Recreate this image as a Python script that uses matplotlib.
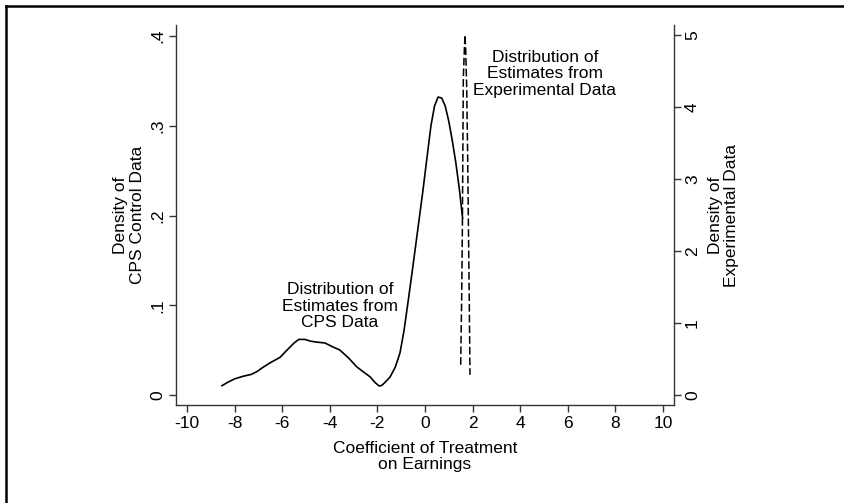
"""
Density of treatment coefficient estimates: CPS control data vs experimental data
"""
import matplotlib
matplotlib.use("Agg")
import matplotlib.pyplot as plt
from matplotlib.lines import Line2D

FIGURE_SIZE = (8.45, 5.03)

# 'CPS control data density (left axis)'
cps_x = [-8.53, -8.3, -8.0, -7.63, -7.3, -7.07, -6.8, -6.5, -6.09, -5.8, -5.5, -5.3, -5.04,
         -4.8, -4.55, -4.2, -3.9, -3.57, -3.2, -2.87, -2.6, -2.31, -2.1, -1.92, -1.8, -1.65,
         -1.47, -1.25, -1.05, -0.88, -0.7, -0.5, -0.3, -0.1, 0.1, 0.25, 0.4, 0.55, 0.7, 0.85,
         1.0, 1.15, 1.3, 1.45, 1.58]
cps_y = [0.0104, 0.014, 0.018, 0.021, 0.023, 0.026, 0.031, 0.036, 0.042, 0.050, 0.058, 0.062,
         0.062, 0.060, 0.059, 0.058, 0.054, 0.050, 0.041, 0.0315, 0.026, 0.0204, 0.014, 0.010,
         0.011, 0.015, 0.020, 0.031, 0.047, 0.072, 0.106, 0.145, 0.185, 0.225, 0.268, 0.300,
         0.322, 0.332, 0.331, 0.322, 0.305, 0.283, 0.258, 0.228, 0.197]

# 'Experimental data density (right axis)'
exp_x = [1.50, 1.52, 1.54, 1.57, 1.61, 1.65, 1.68, 1.71, 1.75, 1.79, 1.82, 1.84, 1.86, 1.89]
exp_y = [0.42, 0.9, 1.32, 2.3, 4.39, 4.77, 5.0, 4.8, 4.3, 3.38, 2.5, 1.9, 1.32, 0.28]

x_ticks = [-10, -8, -6, -4, -2, 0, 2, 4, 6, 8, 10]
left_ticks = [0, 0.1, 0.2, 0.3, 0.4]
left_labels = ["0", ".1", ".2", ".3", ".4"]
right_ticks = [0, 1, 2, 3, 4, 5]
right_labels = ["0", "1", "2", "3", "4", "5"]

plt.rcParams["font.family"] = ["Liberation Sans", "DejaVu Sans"]
AXIS_COLOR = "#333333"
FS = 12.5
LS = 1.12

fig = plt.figure(figsize=FIGURE_SIZE, dpi=100)
ax = fig.add_axes([0.2083, 0.1948, 0.5893, 0.7555])
ax2 = ax.twinx()

ax.plot(cps_x, cps_y, color="black", linewidth=1.2)
ax2.plot(exp_x, exp_y, color="black", linewidth=1.1, linestyle=(0, (5, 2)))

ax.set_xlim(-10.46, 10.46)
ax.set_ylim(-0.0111, 0.4123)
ax2.set_ylim(-0.139, 5.139)

ax.set_xticks(x_ticks)
ax.set_xticklabels([str(t) for t in x_ticks], fontsize=FS)
ax.set_yticks(left_ticks)
ax.set_yticklabels(left_labels, rotation=90, va="center", fontsize=FS)
ax2.set_yticks(right_ticks)
ax2.set_yticklabels(right_labels, rotation=90, va="center", fontsize=FS)

for a in (ax, ax2):
    a.spines["top"].set_visible(False)
    for s in ("left", "right", "bottom"):
        a.spines[s].set_color(AXIS_COLOR)
        a.spines[s].set_linewidth(1.0)
    a.tick_params(colors=AXIS_COLOR, labelcolor="black", length=5, width=1.0, pad=3)
ax.spines["right"].set_visible(False)
ax2.spines["left"].set_visible(False)
ax2.spines["bottom"].set_visible(False)

ax.set_xlabel("Coefficient of Treatment\non Earnings", fontsize=FS, linespacing=LS, labelpad=7)
ax.set_ylabel("Density of\nCPS Control Data", fontsize=FS, linespacing=LS, va="center")
ax.yaxis.set_label_coords(-0.094, 0.5)
ax2.set_ylabel("Density of\nExperimental Data", fontsize=FS, linespacing=LS, va="center",
               rotation=90)
ax2.yaxis.set_label_coords(1.1, 0.5)

ax.text(5.04, 0.358, "Distribution of\nEstimates from\nExperimental Data", fontsize=FS,
        ha="center", va="center", linespacing=LS)
ax.text(-3.57, 0.099, "Distribution of\nEstimates from\nCPS Data", fontsize=FS,
        ha="center", va="center", linespacing=LS)

# 'frame lines of the original screenshot (top and left only)'
fig.add_artist(Line2D([6 / 845, 6 / 845], [0, 1 - 6 / 503], transform=fig.transFigure,
                      color="black", linewidth=1.8))
fig.add_artist(Line2D([6 / 845, 1], [1 - 6 / 503, 1 - 6 / 503], transform=fig.transFigure,
                      color="black", linewidth=1.8))

fig.savefig("out.png", dpi=100)
